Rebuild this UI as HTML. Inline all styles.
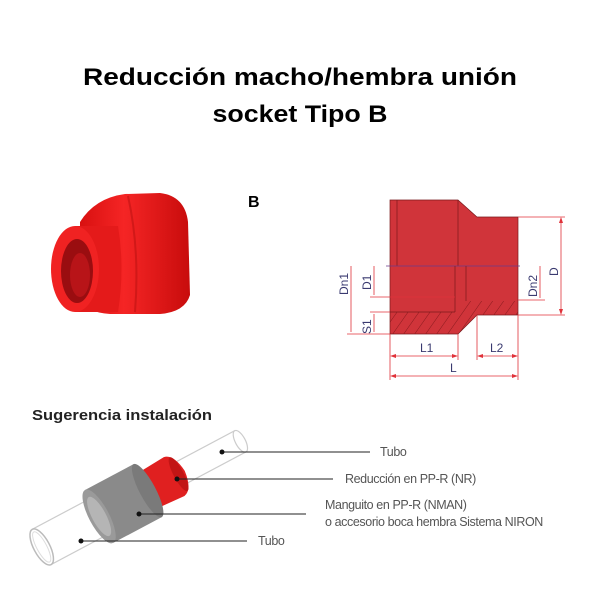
<!DOCTYPE html>
<html><head><meta charset="utf-8"><style>
html,body{margin:0;padding:0;background:#fff;}
svg{display:block;}
</style></head><body>
<svg width="600" height="600" viewBox="0 0 600 600" xmlns="http://www.w3.org/2000/svg">
<defs>
<pattern id="h" width="9" height="9" patternUnits="userSpaceOnUse" patternTransform="rotate(35)">
<rect width="9" height="9" fill="#d0343a"/><line x1="0" y1="0" x2="0" y2="9" stroke="#8a1a1e" stroke-width="1"/>
</pattern>
<linearGradient id="lg" x1="0" y1="0" x2="1" y2="0"><stop offset="0" stop-color="#d81010"/><stop offset="0.4" stop-color="#f52525"/><stop offset="1" stop-color="#c80c0c"/></linearGradient>
</defs>
<text x="300" y="85" text-anchor="middle" font-family="Liberation Sans, sans-serif" font-weight="bold" font-size="24" textLength="434" lengthAdjust="spacingAndGlyphs">Reducción macho/hembra unión</text>
<text x="300" y="122" text-anchor="middle" font-family="Liberation Sans, sans-serif" font-weight="bold" font-size="24" textLength="175" lengthAdjust="spacingAndGlyphs">socket Tipo B</text>
<text x="248" y="207" font-family="Liberation Sans, sans-serif" font-weight="bold" font-size="16">B</text>

<!-- photo fitting -->
<g>
<path d="M80 222 Q95 198 125 194 L160 193 Q185 196 188 222 L190 295 Q185 312 160 314 L110 314 Q85 312 80 300 Z" fill="url(#lg)"/>
<path d="M128 196 Q140 250 135 312" stroke="#b50f0f" stroke-width="2" fill="none" opacity="0.5"/>
<path d="M75 226 L118 226 Q125 268 118 312 L75 312 Z" fill="#e41a1a"/>
<ellipse cx="75" cy="269" rx="24" ry="43" fill="#f02222"/>
<ellipse cx="77" cy="271" rx="16" ry="32" fill="#9a0d10"/>
<ellipse cx="80" cy="275" rx="10" ry="22" fill="#b81418"/>
</g>

<!-- cross section -->
<g>
<path d="M390 200 L458 200 L477 217 L518 217 L518 315 L477 315 L458 334 L390 334 Z" fill="#d0343a"/>
<path d="M390 312 L455 312 L467 301 L518 301 L518 315 L477 315 L458 334 L390 334 Z" fill="url(#h)"/>
<path d="M390 200 L458 200 L477 217 L518 217 L518 315 L477 315 L458 334 L390 334 Z" fill="none" stroke="#7a1a1c" stroke-width="0.7"/>
<line x1="397" y1="200" x2="397" y2="266" stroke="#7a1a1c" stroke-width="0.7"/>
<line x1="458" y1="200" x2="458" y2="266" stroke="#7a1a1c" stroke-width="0.7"/>
<line x1="386" y1="266" x2="520" y2="266" stroke="#6a3a8a" stroke-width="0.7"/>
<line x1="455" y1="266" x2="455" y2="312" stroke="#7a1a1c" stroke-width="0.7"/>
<line x1="466" y1="266" x2="466" y2="301" stroke="#7a1a1c" stroke-width="0.7"/>
<line x1="390" y1="312" x2="455" y2="312" stroke="#7a1a1c" stroke-width="0.7"/>
</g>
<g stroke="#e0323a" stroke-width="0.8" fill="none">
<line x1="518" y1="217" x2="565" y2="217"/><line x1="518" y1="315" x2="565" y2="315"/>
<line x1="561" y1="219" x2="561" y2="313"/>
<line x1="518" y1="300" x2="545" y2="300"/>
<line x1="540" y1="266" x2="540" y2="298"/>
<line x1="347" y1="334" x2="390" y2="334"/>
<line x1="351" y1="266" x2="351" y2="332"/>
<line x1="370" y1="297" x2="455" y2="297"/>
<line x1="374" y1="266" x2="374" y2="295"/>
<line x1="370" y1="312" x2="390" y2="312"/>
<line x1="374" y1="314" x2="374" y2="332"/>
<line x1="390" y1="334" x2="390" y2="380"/><line x1="458" y1="334" x2="458" y2="360"/>
<line x1="477" y1="315" x2="477" y2="360"/><line x1="518" y1="315" x2="518" y2="380"/>
<line x1="392" y1="356" x2="456" y2="356"/><line x1="479" y1="356" x2="516" y2="356"/>
<line x1="392" y1="376" x2="516" y2="376"/>
</g>
<g fill="#e0323a">
<path d="M561 217 l-2 6 h4z"/><path d="M561 315 l-2 -6 h4z"/>
<path d="M390 356 l6 -2 v4z"/><path d="M458 356 l-6 -2 v4z"/>
<path d="M477 356 l6 -2 v4z"/><path d="M518 356 l-6 -2 v4z"/>
<path d="M390 376 l6 -2 v4z"/><path d="M518 376 l-6 -2 v4z"/>
</g>
<g font-family="Liberation Sans, sans-serif" font-size="12" fill="#3a3a70">
<text x="420" y="352">L1</text><text x="490" y="352">L2</text><text x="450" y="372">L</text>
<text transform="translate(348,295) rotate(-90)">Dn1</text>
<text transform="translate(371,290) rotate(-90)">D1</text>
<text transform="translate(371,334) rotate(-90)">S1</text>
<text transform="translate(537,297) rotate(-90)">Dn2</text>
<text transform="translate(558,276) rotate(-90)">D</text>
</g>

<text x="32" y="420" font-family="Liberation Sans, sans-serif" font-weight="bold" font-size="14.5" fill="#222" textLength="180" lengthAdjust="spacingAndGlyphs">Sugerencia instalación</text>

<!-- installation -->
<g transform="translate(130,500) rotate(-28)">
<rect x="-100" y="-20" width="110" height="40" fill="#fff" stroke="#ccc" stroke-width="1.2"/>
<ellipse cx="-100" cy="0" rx="8" ry="20" fill="#fff" stroke="#bbb" stroke-width="1.5"/>
<ellipse cx="-100" cy="0" rx="5" ry="17" fill="#fff" stroke="#ddd" stroke-width="1"/>
<rect x="50" y="-12" width="75" height="24" fill="#fff" stroke="#ccc" stroke-width="1.2"/>
<ellipse cx="125" cy="0" rx="5" ry="12" fill="#fff" stroke="#ccc" stroke-width="1.2"/>
<path d="M18 -20 L50 -22 Q60 -20 62 0 Q60 20 50 22 L18 20 Z" fill="#e02020"/>
<ellipse cx="55" cy="0" rx="5" ry="19" fill="#c21515"/>
<rect x="-35" y="-30" width="55" height="60" fill="#8a8a8a"/>
<ellipse cx="20" cy="0" rx="8" ry="30" fill="#7a7a7a"/>
<ellipse cx="-35" cy="0" rx="10" ry="30" fill="#9a9a9a"/>
<ellipse cx="-35" cy="0" rx="7" ry="22" fill="#b5b5b5"/>
</g>
<g stroke="#222" stroke-width="1">
<line x1="222" y1="452" x2="370" y2="452"/>
<line x1="177" y1="479" x2="333" y2="479"/>
<line x1="139" y1="514" x2="306" y2="514"/>
<line x1="81" y1="541" x2="247" y2="541"/>
</g>
<g fill="#111"><circle cx="222" cy="452" r="2.5"/><circle cx="177" cy="479" r="2.5"/><circle cx="139" cy="514" r="2.5"/><circle cx="81" cy="541" r="2.5"/></g>
<g font-family="Liberation Sans, sans-serif" font-size="12.5" fill="#555" letter-spacing="-0.4">
<text x="380" y="456">Tubo</text>
<text x="345" y="483">Reducción en PP-R (NR)</text>
<text x="325" y="509">Manguito en PP-R (NMAN)</text>
<text x="325" y="526">o accesorio boca hembra Sistema NIRON</text>
<text x="258" y="545">Tubo</text>
</g>
</svg>
</body></html>
